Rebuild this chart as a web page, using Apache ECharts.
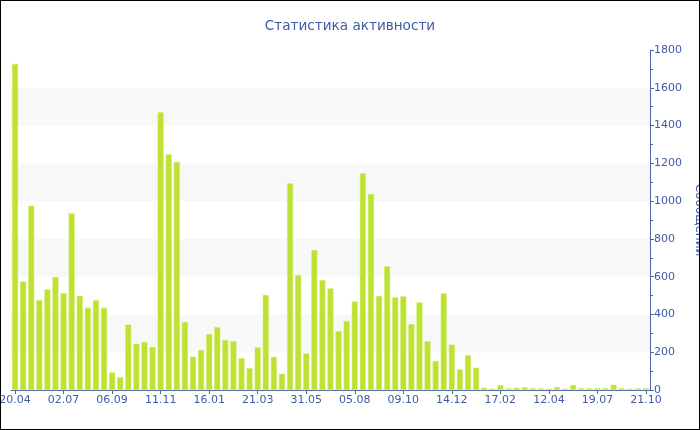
<!DOCTYPE html>
<html>
<head>
<meta charset="utf-8">
<script src="https://cdn.jsdelivr.net/npm/echarts@6/dist/echarts.min.js"></script>
<style>
  html, body { margin: 0; padding: 0; background: #fff; }
  #wrap { width: 700px; height: 430px; box-sizing: border-box; border: 1px solid #000; }
  #chart { width: 698px; height: 428px; }
</style>
</head>
<body>
<div id="wrap"><div id="chart"></div></div>
<script>
const titleText = 'Статистика активности';
const yAxisName = 'Сообщений';
const tickLabels = ['20.04', '02.07', '06.09', '11.11', '16.01', '21.03', '31.05',
                    '05.08', '09.10', '14.12', '17.02', '12.04', '19.07', '21.10'];
const labelStep = 6;
const messages = [
  1726, 575, 976, 476, 533, 598, 512, 935, 499, 436, 476, 436,
  93, 67, 346, 245, 254, 228, 1470, 1248, 1207, 360, 176, 212,
  296, 333, 265, 258, 168, 115, 226, 503, 175, 86, 1094, 609,
  194, 741, 582, 538, 312, 365, 468, 1147, 1038, 498, 655, 491,
  496, 349, 464, 258, 154, 512, 240, 109, 184, 118, 12, 7,
  26, 9, 12, 14, 10, 9, 7, 16, 7, 26, 10, 9,
  10, 10, 28, 10, 7, 9, 10
];
const yTicks = { min: 0, max: 1800, interval: 200 };

const categories = messages.map((v, i) =>
  i % labelStep === 0 ? (tickLabels[i / labelStep] || '') : '');

const textColor = '#3f5aa6';
const axisColor = '#4d66ab';
const font = 'DejaVu Sans';

const chart = echarts.init(document.getElementById('chart'), null, { renderer: 'canvas' });
chart.setOption({
  animation: false,
  backgroundColor: '#ffffff',
  title: {
    text: titleText,
    left: 'center',
    top: 18,
    padding: 0,
    textStyle: { color: textColor, fontSize: 13.6, fontWeight: 'normal', fontFamily: font }
  },
  grid: { left: 10, right: 49, top: 49, bottom: 39, containLabel: false, outerBoundsMode: 'none' },
  xAxis: {
    type: 'category',
    data: categories,
    boundaryGap: true,
    axisLine: { lineStyle: { color: axisColor, width: 1 } },
    axisTick: { show: true, interval: labelStep - 1, alignWithLabel: true, length: 4,
                lineStyle: { color: axisColor } },
    axisLabel: { interval: labelStep - 1, color: textColor, fontSize: 11, fontFamily: font, margin: 5,
                 hideOverlap: false },
    splitLine: { show: false }
  },
  yAxis: {
    type: 'value',
    position: 'right',
    min: yTicks.min,
    max: yTicks.max,
    interval: yTicks.interval,
    name: yAxisName,
    nameLocation: 'middle',
    nameRotate: -90,
    nameGap: 42,
    nameTextStyle: { color: textColor, fontSize: 12, fontFamily: font },
    axisLine: { show: true, lineStyle: { color: axisColor, width: 1 } },
    axisTick: { show: true, length: 4, lineStyle: { color: axisColor } },
    minorTick: { show: true, splitNumber: 2, length: 3, lineStyle: { color: axisColor } },
    axisLabel: { color: textColor, fontSize: 11, fontFamily: font, margin: 4,
                 formatter: v => String(v) },
    splitLine: { show: false },
    splitArea: { show: true, areaStyle: { color: ['#ffffff', '#f8f8f8'] } }
  },
  series: [{
    type: 'bar',
    data: messages,
    barCategoryGap: '25%',
    itemStyle: { color: '#bde232', borderColor: '#d4ee7a', borderWidth: 0.5 }
  }]
});
</script>
</body>
</html>
